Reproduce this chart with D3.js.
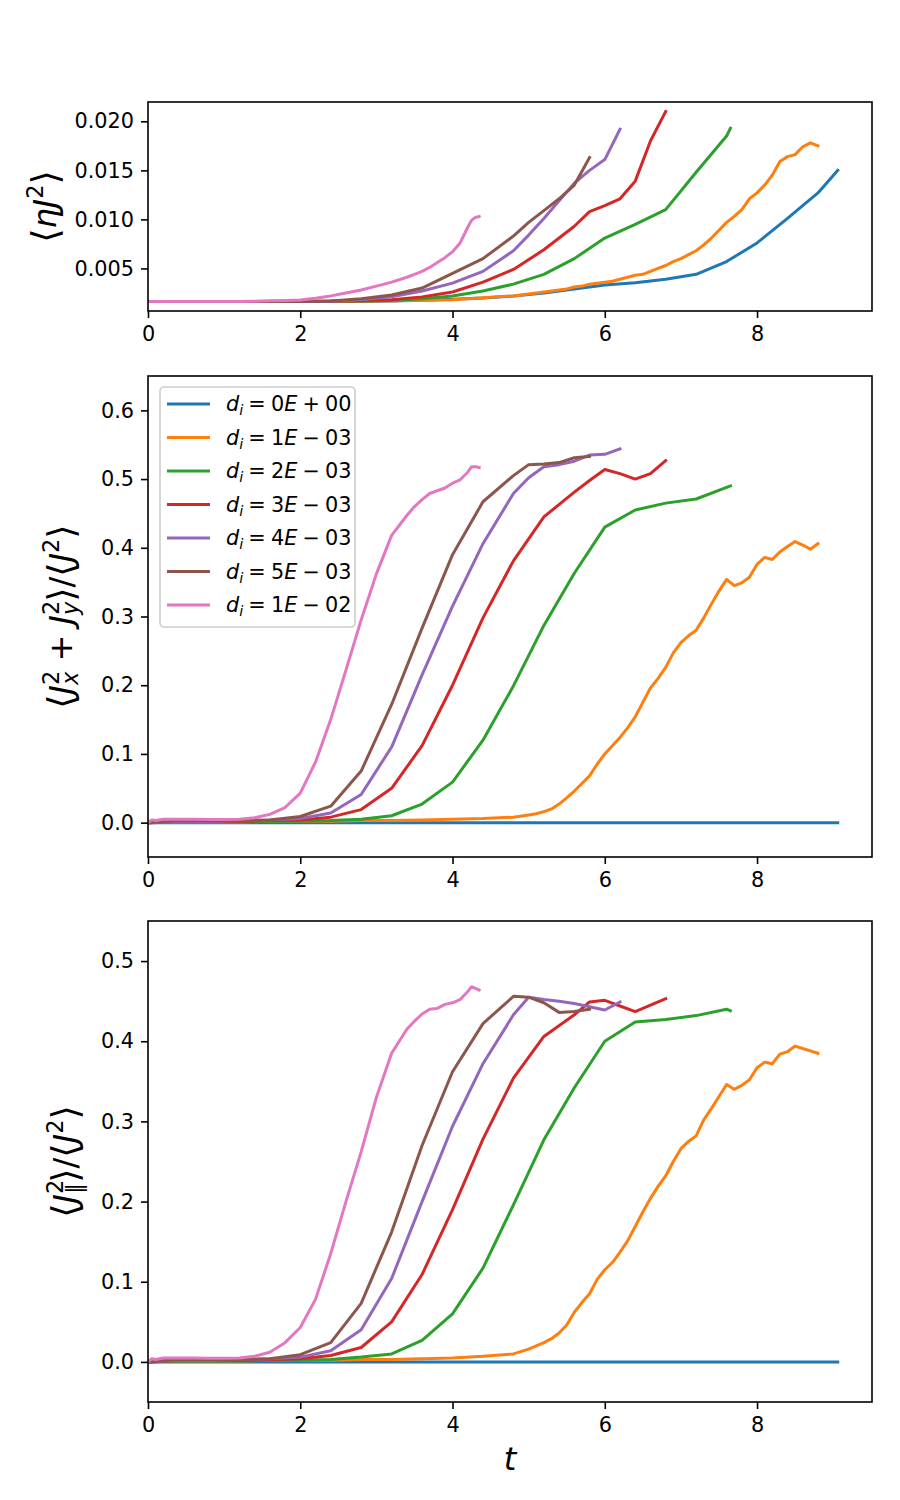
<!DOCTYPE html>
<html><head><meta charset="utf-8">
<script src="https://cdn.jsdelivr.net/npm/d3@7"></script>
<style>body{margin:0;background:#fff} svg{display:block} text{font-family:"DejaVu Sans",sans-serif}</style>
</head><body><svg id="c" width="900" height="1500"></svg>
<script>
// ---------------- data ----------------
const diMant = ['0','1','2','3','4','5','1'];
const diSign = ['+','\u2212','\u2212','\u2212','\u2212','\u2212','\u2212'];
const diExp  = ['00','03','03','03','03','03','02'];
const colors = ['#1f77b4','#ff7f0e','#2ca02c','#d62728','#9467bd','#8c564b','#e377c2'];

const xTicks = [0,2,4,6,8];
const y1Ticks = [0.005,0.010,0.015,0.020];
const y2Ticks = [0,0.1,0.2,0.3,0.4,0.5,0.6];
const y3Ticks = [0,0.1,0.2,0.3,0.4,0.5];
const xDomain = [0,9.51];
const y1Domain = [0.00066,0.02197];
const y2Domain = [-0.05,0.65];
const y3Domain = [-0.05,0.55];

// d_i = 0
const tBlue = [0,0.4,0.8,1.2,1.6,2.0,2.4,2.8,3.2,3.6,4.0,4.4,4.8,5.2,5.6,6.0,6.4,6.8,7.2,7.6,8.0,8.4,8.8,9.06];
const etaBlue = [0.00163,0.00163,0.00163,0.00163,0.00163,0.00163,0.00163,0.00165,0.00169,0.00176,0.00185,0.00198,0.0022,0.0025,0.0029,0.0033,0.00355,0.0039,0.0044,0.0057,0.0076,0.0101,0.0127,0.0150];
const perpBlue = [0,0,0,0,0,0,0,0,0,0,0,0,0,0,0,0,0,0,0,0,0,0,0,0];
const parBlue  = [0,0,0,0,0,0,0,0,0,0,0,0,0,0,0,0,0,0,0,0,0,0,0,0];

// d_i = 1E-03
const tOrange = [0,0.4,0.8,1.2,1.6,2.0,2.4,2.8,3.2,3.6,4.0,4.4,4.8,
  5.0,5.1,5.2,5.3,5.4,5.5,5.6,5.7,5.8,5.9,6.0,6.1,6.2,6.3,6.4,6.5,6.6,6.7,6.8,6.9,
  7.0,7.1,7.2,7.3,7.4,7.5,7.6,7.7,7.8,7.9,8.0,8.1,8.2,8.3,8.4,8.5,8.6,8.7,8.8];
const etaOrange = [0.00163,0.00163,0.00163,0.00163,0.00163,0.00163,0.00164,0.00166,0.0017,0.00175,0.0018,0.002,0.0022,
  0.0024,0.0025,0.0026,0.0027,0.0028,0.0029,0.0031,0.0032,0.0034,0.0035,0.0036,0.0037,0.0039,0.0041,0.0043,0.0044,0.0047,0.005,0.0053,0.0057,
  0.006,0.0064,0.0068,0.0074,0.0081,0.0089,0.0097,0.0103,0.011,0.0121,0.0127,0.0135,0.0145,0.0159,0.0164,0.0166,0.0174,0.0178,0.0175];
const perpOrange = [0,0.001,0.001,0.001,0.002,0.002,0.002,0.003,0.003,0.004,0.005,0.006,0.008,
  0.011,0.013,0.016,0.02,0.027,0.036,0.046,0.057,0.068,0.085,0.1,0.112,0.124,0.138,0.154,0.175,0.196,0.21,0.226,0.247,
  0.262,0.272,0.28,0.298,0.318,0.337,0.354,0.345,0.349,0.357,0.376,0.386,0.383,0.394,0.402,0.409,0.404,0.398,0.406];
const parOrange = [0,0.001,0.001,0.001,0.002,0.002,0.002,0.003,0.003,0.004,0.005,0.007,0.010,
  0.016,0.02,0.024,0.029,0.036,0.046,0.062,0.074,0.085,0.103,0.115,0.124,0.137,0.151,0.169,0.187,0.204,0.219,0.232,0.25,
  0.266,0.275,0.282,0.302,0.316,0.331,0.346,0.34,0.345,0.352,0.367,0.374,0.372,0.384,0.387,0.394,0.391,0.388,0.385];

// d_i = 2E-03
const tGreen = [0,0.4,0.8,1.2,1.6,2.0,2.4,2.8,3.2,3.6,4.0,4.4,4.8,5.2,5.6,6.0,6.4,6.8,7.2,7.6,7.65];
const etaGreen = [0.00163,0.00163,0.00163,0.00163,0.00163,0.00163,0.00165,0.00168,0.00172,0.0019,0.0022,0.0027,0.0034,0.0044,0.006,0.0081,0.0095,0.011,0.0148,0.0185,0.0193];
const perpGreen = [0,0.001,0.001,0.001,0.002,0.002,0.003,0.005,0.01,0.027,0.059,0.12,0.199,0.287,0.363,0.43,0.455,0.465,0.471,0.488,0.49];
const parGreen  = [0,0.001,0.001,0.001,0.002,0.002,0.003,0.006,0.01,0.027,0.06,0.117,0.196,0.277,0.342,0.4,0.424,0.427,0.432,0.44,0.438];

// d_i = 3E-03
const tRed = [0,0.4,0.8,1.2,1.6,2.0,2.4,2.8,3.2,3.6,4.0,4.4,4.8,5.2,5.6,5.8,6.0,6.2,6.4,6.6,6.8];
const etaRed = [0.00163,0.00163,0.00163,0.00163,0.00163,0.00163,0.00166,0.0017,0.0018,0.0021,0.0026,0.0036,0.0049,0.0069,0.0093,0.0108,0.0114,0.0121,0.0139,0.018,0.021];
const perpRed = [0,0.002,0.002,0.002,0.003,0.004,0.008,0.019,0.05,0.112,0.2,0.298,0.381,0.445,0.481,0.498,0.514,0.508,0.5,0.508,0.527];
const parRed  = [0,0.002,0.002,0.002,0.003,0.004,0.008,0.018,0.05,0.109,0.19,0.278,0.354,0.406,0.433,0.449,0.451,0.444,0.437,0.445,0.453];

// d_i = 4E-03
const tPurple = [0,0.4,0.8,1.2,1.6,2.0,2.4,2.8,3.2,3.6,4.0,4.4,4.8,5.0,5.2,5.4,5.6,5.8,6.0,6.2];
const etaPurple = [0.00163,0.00163,0.00163,0.00163,0.00163,0.00163,0.00166,0.0018,0.0021,0.0027,0.0035,0.0047,0.0068,0.0084,0.0101,0.0119,0.0137,0.015,0.0161,0.0192];
const perpPurple = [0,0.002,0.002,0.003,0.004,0.006,0.014,0.041,0.11,0.215,0.315,0.406,0.479,0.502,0.518,0.521,0.526,0.535,0.536,0.544];
const parPurple  = [0,0.002,0.002,0.003,0.004,0.006,0.014,0.04,0.104,0.2,0.294,0.372,0.433,0.455,0.452,0.45,0.447,0.443,0.439,0.449];

// d_i = 5E-03
const tBrown = [0,0.4,0.8,1.2,1.6,2.0,2.4,2.8,3.2,3.6,4.0,4.4,4.8,5.0,5.2,5.4,5.6,5.8];
const etaBrown = [0.00163,0.00163,0.00163,0.00163,0.00163,0.00163,0.00168,0.0019,0.0023,0.003,0.0045,0.006,0.0083,0.0097,0.0109,0.0121,0.0135,0.0163];
const perpBrown = [0,0.003,0.003,0.003,0.004,0.009,0.024,0.075,0.172,0.283,0.39,0.467,0.505,0.521,0.522,0.524,0.531,0.533];
const parBrown  = [0,0.003,0.003,0.003,0.004,0.009,0.024,0.073,0.162,0.27,0.362,0.422,0.456,0.455,0.448,0.436,0.437,0.44];

// d_i = 1E-02
const tPink = [0,0.05,0.1,0.2,0.4,0.6,0.8,1.0,1.2,1.4,1.6,1.8,2.0,2.2,2.4,2.6,2.8,3.0,3.2,3.4,3.5,3.6,3.7,3.8,3.9,4.0,4.1,4.2,4.25,4.3,4.35];
const etaPink = [0.00163,0.00163,0.00163,0.00163,0.00163,0.00163,0.00163,0.00163,0.00164,0.00166,0.0017,0.00173,0.00178,0.00195,0.0022,0.0025,0.0028,0.0032,0.0036,0.0041,0.0044,0.0047,0.0051,0.0056,0.0061,0.0067,0.0076,0.0092,0.0099,0.0102,0.0103];
const perpPink = [0,0.004,0.003,0.005,0.005,0.0048,0.0045,0.0045,0.005,0.007,0.012,0.022,0.043,0.088,0.15,0.222,0.295,0.362,0.418,0.447,0.46,0.47,0.479,0.483,0.487,0.494,0.499,0.51,0.518,0.518,0.517];
const parPink  = [0,0.004,0.003,0.005,0.005,0.0048,0.0045,0.0045,0.005,0.007,0.012,0.024,0.043,0.078,0.135,0.2,0.262,0.33,0.385,0.415,0.425,0.434,0.44,0.441,0.446,0.448,0.452,0.462,0.468,0.466,0.464];

// ---------------- build ----------------
const series = [
  {t:tBlue,   eta:etaBlue,   perp:perpBlue,   par:parBlue},
  {t:tOrange, eta:etaOrange, perp:perpOrange, par:parOrange},
  {t:tGreen,  eta:etaGreen,  perp:perpGreen,  par:parGreen},
  {t:tRed,    eta:etaRed,    perp:perpRed,    par:parRed},
  {t:tPurple, eta:etaPurple, perp:perpPurple, par:parPurple},
  {t:tBrown,  eta:etaBrown,  perp:perpBrown,  par:parBrown},
  {t:tPink,   eta:etaPink,   perp:perpPink,   par:parPink}
].map((s,i)=>Object.assign(s,{color:colors[i]}));

const svg = d3.select('#c');
const L = 148, R = 872;
const FS = 20.8, LFS = 32;
const x = d3.scaleLinear().domain(xDomain).range([L,R]);

const panels = [
  {top:102, bottom:311, domain:y1Domain, ticks:y1Ticks, fmt:d3.format('.3f'), key:'eta',
   label:[{s:'\u27E8',b:1},{s:'\u03B7',i:1},{s:'J',i:1},{s:'2',p:'sup'},{s:'\u27E9',b:1}], lx:56},
  {top:376, bottom:857, domain:y2Domain, ticks:y2Ticks, fmt:d3.format('.1f'), key:'perp',
   label:[{s:'\u27E8',b:1},{s:'J',i:1},{s:'2',p:'sup'},{s:'x',i:1,p:'sub',dx:-0.445},{s:' + '},{s:'J',i:1},{s:'2',p:'sup'},{s:'y',i:1,p:'sub',dx:-0.445},{s:'\u27E9',b:1},{s:'/'},{s:'\u27E8',b:1},{s:'J',i:1},{s:'2',p:'sup'},{s:'\u27E9',b:1}], lx:72},
  {top:921, bottom:1402, domain:y3Domain, ticks:y3Ticks, fmt:d3.format('.1f'), key:'par',
   label:[{s:'\u27E8',b:1},{s:'J',i:1},{s:'2',p:'sup'},{s:'\u2225',p:'sub',dx:-0.445},{s:'\u27E9',b:1},{s:'/'},{s:'\u27E8',b:1},{s:'J',i:1},{s:'2',p:'sup'},{s:'\u27E9',b:1}], lx:76}
];

function mathText(parent, parts, fs){
  const t = parent.append('text').style('white-space','pre').attr('font-size',fs);
  let cur = 0;
  parts.forEach(p=>{
    const target = p.p==='sup' ? -0.42*fs : p.p==='sub' ? 0.2*fs : (p.b ? 0.06*fs : 0);
    const ts = t.append('tspan').text(p.s)
      .attr('font-size', p.p ? fs*0.7 : (p.b ? fs*1.15 : fs))
      .attr('font-style', p.i ? 'italic' : 'normal')
      .attr('dy', target-cur);
    if (p.dx) ts.attr('dx', p.dx*fs);
    cur = target;
  });
  return t;
}

panels.forEach((P,pi)=>{
  const g = svg.append('g');
  const y = d3.scaleLinear().domain(P.domain).range([P.bottom,P.top]);
  const cid = 'clip'+pi;
  svg.append('clipPath').attr('id',cid).append('rect')
    .attr('x',L).attr('y',P.top).attr('width',R-L).attr('height',P.bottom-P.top);
  const lg = g.append('g').attr('clip-path',`url(#${cid})`);
  series.forEach(s=>{
    const vals = s[P.key];
    const line = d3.line().x(i=>x(s.t[i])).y(i=>y(vals[i]));
    lg.append('path').attr('d', line(d3.range(s.t.length)))
      .attr('fill','none').attr('stroke',s.color).attr('stroke-width',3)
      .attr('stroke-linejoin','round').attr('stroke-linecap','square');
  });
  // axes
  const xa = g.append('g').attr('transform',`translate(0,${P.bottom})`)
    .call(d3.axisBottom(x).tickValues(xTicks).tickFormat(d3.format('d')).tickSize(7).tickPadding(8));
  const ya = g.append('g').attr('transform',`translate(${L},0)`)
    .call(d3.axisLeft(y).tickValues(P.ticks).tickFormat(P.fmt).tickSize(7).tickPadding(7));
  [xa,ya].forEach(a=>{
    a.select('.domain').remove();
    a.attr('font-family','DejaVu Sans').attr('font-size',FS);
    a.selectAll('line').attr('stroke','#000').attr('stroke-width',1.6);
    a.selectAll('text').attr('fill','#000');
  });
  g.append('rect').attr('x',L).attr('y',P.top).attr('width',R-L).attr('height',P.bottom-P.top)
    .attr('fill','none').attr('stroke','#000').attr('stroke-width',1.6);
  // y label
  mathText(g, P.label, LFS).attr('text-anchor','middle')
    .attr('transform',`translate(${P.lx},${(P.top+P.bottom)/2}) rotate(-90)`);

  if (pi===1){
    // legend
    const lgd = g.append('g');
    lgd.append('rect').attr('x',160).attr('y',387).attr('width',195).attr('height',240)
      .attr('rx',4).attr('fill','#fff').attr('fill-opacity',0.8).attr('stroke','#cccccc').attr('stroke-width',1.6);
    series.forEach((s,i)=>{
      const cy = 404 + i*33.5;
      lgd.append('line').attr('x1',167).attr('x2',210).attr('y1',cy).attr('y2',cy)
        .attr('stroke',s.color).attr('stroke-width',3);
      const tt = mathText(lgd, [{s:'d',i:1},{s:'i',i:1,p:'sub'},{s:' = '+diMant[i]},{s:'E',i:1},{s:' '+diSign[i]+' '+diExp[i]}], FS);
      tt.attr('x',226).attr('y',cy+7).attr('word-spacing',-1.5);
    });
  }
});
// x label
svg.append('text').attr('x',510).attr('y',1470).attr('text-anchor','middle')
  .attr('font-size',LFS).attr('font-style','italic').text('t');
</script></body></html>
